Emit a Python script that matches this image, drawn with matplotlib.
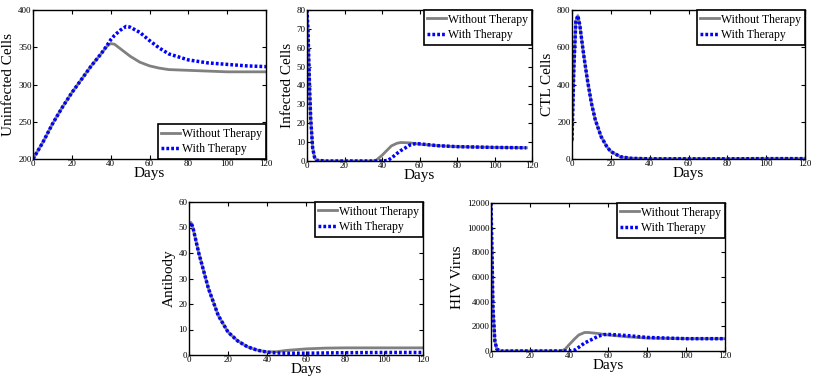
import numpy as np
import matplotlib.pyplot as plt

plt.rcParams['font.family'] = ['Liberation Serif', 'DejaVu Serif']

# uninfected cells
t_unf = [0, 5, 10, 15, 20, 25, 30, 35, 38, 40, 42, 45, 48, 50, 55, 60, 65, 70, 80, 90, 100, 110, 120]
unf_without = [200, 222, 247, 269, 289, 307, 325, 341, 351, 355, 354, 348, 342, 338, 330, 325, 322, 320, 319, 318, 317, 317, 317]
unf_with = [200, 222, 247, 269, 289, 307, 325, 341, 352, 360, 366, 373, 378, 377, 370, 359, 349, 341, 333, 329, 327, 325, 324]

# infected cells
t_inf = [0, 0.5, 1, 1.5, 2, 3, 4, 5, 10, 20, 30, 35, 37, 40, 43, 45, 48, 50, 55, 58, 60, 70, 80, 90, 100, 117]
inf_without = [80, 70, 52, 35, 22, 7, 2, 0.4, 0, 0, 0, 0, 0.5, 3, 6, 8, 9.4, 9.8, 9.6, 9.2, 8.9, 8.1, 7.6, 7.4, 7.2, 7.0]
inf_with = [80, 70, 52, 35, 22, 7, 2, 0.4, 0, 0, 0, 0, 0, 0, 0.3, 1.5, 4, 5.5, 8.5, 9.2, 9.1, 8.1, 7.6, 7.4, 7.2, 7.0]

# CTL cells
t_ctl = [0, 1, 2, 3, 4, 5, 6, 8, 10, 12, 15, 18, 20, 25, 30, 40, 60, 80, 100, 120]
ctl_without = [100, 500, 740, 770, 720, 640, 560, 420, 300, 210, 120, 65, 40, 12, 4, 1, 1, 1, 2, 2]
ctl_with = [100, 500, 740, 770, 720, 640, 560, 420, 300, 210, 120, 65, 40, 12, 4, 1, 1, 1, 2, 2]

# antibody
t_ab = [0, 1, 2, 5, 10, 15, 20, 25, 30, 35, 40, 45, 50, 60, 70, 80, 100, 120]
ab_without = [51, 52, 50, 40, 26, 15.5, 9, 5.5, 3.2, 1.9, 1.2, 1.3, 1.8, 2.4, 2.7, 2.8, 2.8, 2.8]
ab_with = [51, 52, 50, 40, 26, 15.5, 9, 5.5, 3.2, 1.9, 1.1, 0.8, 0.7, 0.7, 0.8, 0.9, 1.0, 1.0]

# HIV virus
t_hiv = [0, 0.5, 1, 2, 3, 5, 20, 36, 38, 40, 43, 45, 48, 50, 55, 58, 60, 70, 80, 100, 120]
hiv_without = [12000, 8000, 3500, 800, 150, 0, 0, 0, 150, 500, 1000, 1300, 1500, 1500, 1420, 1340, 1300, 1150, 1050, 1000, 1000]
hiv_with = [12000, 8000, 3500, 800, 150, 0, 0, 0, 0, 0, 80, 300, 650, 800, 1200, 1330, 1350, 1250, 1100, 1000, 1000]

W, H = 815, 376
fig = plt.figure(figsize=(W / 100, H / 100), dpi=100)


def add_ax(l, r, t, b):
    return fig.add_axes([l / W, (H - b) / H, (r - l) / W, (b - t) / H])


panels = [
    ((33, 266, 10, 159), t_unf, unf_without, unf_with, 'Uninfected Cells', (0, 120), (200, 400), [200, 250, 300, 350, 400], 'lower right'),
    ((307, 532, 10, 161), t_inf, inf_without, inf_with, 'Infected Cells', (0, 117), (0, 80), list(range(0, 90, 10)), 'upper right'),
    ((572, 805, 10, 159), t_ctl, ctl_without, ctl_with, 'CTL Cells', (0, 120), (0, 800), [0, 200, 400, 600, 800], 'upper right'),
    ((189, 423, 202, 355), t_ab, ab_without, ab_with, 'Antibody', (0, 120), (0, 60), list(range(0, 70, 10)), 'upper right'),
    ((491, 725, 203, 351), t_hiv, hiv_without, hiv_with, 'HIV Virus', (0, 120), (0, 12000), list(range(0, 14000, 2000)), 'upper right'),
]

for box, t, y1, y2, ylab, xl, yl, yt, loc in panels:
    ax = add_ax(*box)
    ax.plot(t, y1, color='#808080', lw=2, label='Without Therapy')
    ax.plot(t, y2, color='#0000ff', lw=2.5, ls=(0, (0.8, 0.6)), label='With Therapy')
    ax.set_xlim(xl)
    ax.set_ylim(yl)
    ax.set_xticks([0, 20, 40, 60, 80, 100, 120])
    ax.set_yticks(yt)
    ax.tick_params(direction='in', top=True, right=True, labelsize=6.5, length=3, pad=1)
    ax.set_xlabel('Days', fontsize=11, labelpad=-1)
    ax.set_ylabel(ylab, fontsize=11, labelpad=2)
    for s in ax.spines.values():
        s.set_linewidth(1.0)
    leg = ax.legend(loc=loc, fontsize=8.5, fancybox=False, edgecolor='black', framealpha=1,
                    handlelength=1.6, handletextpad=0.2, borderpad=0.3, labelspacing=0.3,
                    borderaxespad=0)
    leg.get_frame().set_linewidth(1.2)

fig.savefig('out.png', dpi=100)
